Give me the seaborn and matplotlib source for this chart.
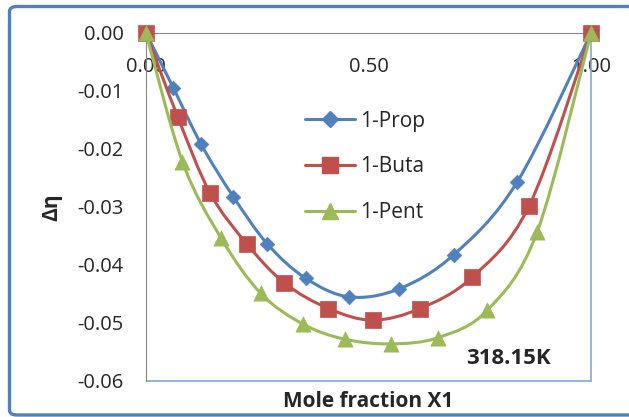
import numpy as np
import pandas as pd
import matplotlib
matplotlib.use("Agg")
import matplotlib.pyplot as plt
import seaborn as sns
from matplotlib.path import Path
from matplotlib.patches import PathPatch, FancyBboxPatch, Rectangle
from matplotlib.lines import Line2D

# ===================== data =====================
x_prop = [0.0, 0.061, 0.124, 0.196, 0.273, 0.359, 0.457, 0.569, 0.692, 0.834, 1.0]
y_prop = [0.0, -0.0094, -0.0192, -0.0282, -0.0364, -0.0423, -0.0455, -0.0441, -0.0382, -0.0257, 0.0]

x_buta = [0.0, 0.071, 0.144, 0.226, 0.311, 0.410, 0.509, 0.616, 0.733, 0.861, 1.0]
y_buta = [0.0, -0.0144, -0.0276, -0.0363, -0.0431, -0.0475, -0.0495, -0.0475, -0.0421, -0.0298, 0.0]

x_pent = [0.0, 0.082, 0.169, 0.258, 0.353, 0.447, 0.551, 0.657, 0.767, 0.879, 1.0]
y_pent = [0.0, -0.0222, -0.0354, -0.0449, -0.0502, -0.0528, -0.0536, -0.0525, -0.0478, -0.0343, 0.0]

series_names = ["1-Prop", "1-Buta", "1-Pent"]
y_ticks = [0.0, -0.01, -0.02, -0.03, -0.04, -0.05, -0.06]
y_ticklabels = ["0.00", "-0.01", "-0.02", "-0.03", "-0.04", "-0.05", "-0.06"]
x_ticks = [0.0, 0.5, 1.0]
x_ticklabels = ["0.00", "0.50", "1.00"]

colors = {"1-Prop": "#4F81BD", "1-Buta": "#C0504D", "1-Pent": "#9BBB59"}
markers = {"1-Prop": "D", "1-Buta": "s", "1-Pent": "^"}
sizes = {"1-Prop": 55, "1-Buta": 120, "1-Pent": 120}

df = pd.concat([
    pd.DataFrame({"x": x_prop, "y": y_prop, "series": "1-Prop"}),
    pd.DataFrame({"x": x_buta, "y": y_buta, "series": "1-Buta"}),
    pd.DataFrame({"x": x_pent, "y": y_pent, "series": "1-Pent"}),
], ignore_index=True)

sns.set_style("white")
plt.rcParams['font.family'] = ['Open Sans', 'DejaVu Sans']

fig = plt.figure(figsize=(6.29, 4.17), dpi=100)
ax = fig.add_axes([146 / 629, 1 - 381 / 417, 445 / 629, 348 / 417])


def smooth_path(xs, ys):
    # Excel style smoothed line: cubic bezier through the points
    p = np.column_stack([xs, ys])
    n = len(p)
    verts = [p[0]]
    codes = [Path.MOVETO]
    for i in range(n - 1):
        p0 = p[i - 1] if i > 0 else p[i]
        p3 = p[i + 2] if i + 2 < n else p[i + 1]
        c1 = p[i] + (p[i + 1] - p0) / 6
        c2 = p[i + 1] - (p3 - p[i]) / 6
        verts += [c1, c2, p[i + 1]]
        codes += [Path.CURVE4] * 3
    return Path(verts, codes)


for k, name in enumerate(series_names):
    sub = df[df["series"] == name]
    patch = PathPatch(smooth_path(sub["x"].values, sub["y"].values), fill=False,
                      edgecolor=colors[name], lw=2.2, zorder=2 + k, clip_on=False)
    ax.add_patch(patch)
    sns.scatterplot(data=sub, x="x", y="y", color=colors[name], marker=markers[name],
                    s=sizes[name], edgecolor=colors[name], linewidth=0.5,
                    legend=False, ax=ax, zorder=2.5 + k, clip_on=False)

ax.set_xlim(0, 1)
ax.set_ylim(-0.06, 0)

# axes styling
axis_gray = "#868686"
border_blue = "#7FA9DC"
ax.spines['bottom'].set_position(('data', 0))
ax.spines['bottom'].set_color(axis_gray)
ax.spines['left'].set_color(axis_gray)
ax.spines['top'].set_visible(False)
ax.spines['right'].set_color(border_blue)
ax.spines['right'].set_linewidth(1.2)
ax.spines['bottom'].set_zorder(1.5)
ax.add_patch(Rectangle((0, 0), 1, 0.0, transform=ax.transAxes, fill=False,
                       edgecolor=border_blue, lw=1.2, clip_on=False))

ax.set_xticks(x_ticks)
ax.set_xticklabels(x_ticklabels)
ax.set_yticks(y_ticks)
ax.set_yticklabels(y_ticklabels)
ax.tick_params(axis='x', direction='out', length=4.5, width=1, color=axis_gray,
               pad=13, labelsize=14.5)
ax.tick_params(axis='y', direction='out', length=5, width=1, color=axis_gray,
               pad=11, labelsize=14.5)

ax.set_ylabel("Δη", fontsize=15, fontweight='bold')
ax.yaxis.set_label_coords(-0.189, 0.5)
ax.set_xlabel("")
ax.text(0.5, -0.0575, "Mole fraction X1", transform=ax.transAxes, ha='center', va='center',
        fontsize=15, fontweight='bold')

ax.text((508 - 146) / 445, 1 - (359 - 33) / 348, "318.15K", transform=ax.transAxes,
        ha='center', va='center', fontsize=16, fontweight='bold')

handles = [Line2D([0], [0], color=colors[n], lw=2.2, marker=markers[n],
                  markersize={"1-Prop": 8, "1-Buta": 11, "1-Pent": 11}[n])
           for n in series_names]
ax.legend(handles, series_names, loc='center left',
          bbox_to_anchor=((305 - 146) / 445, 1 - (167 - 33) / 348),
          frameon=False, fontsize=15, handlelength=2.4, handletextpad=0.25,
          labelspacing=1.2, borderpad=0, borderaxespad=0)

# outer chart border
fig.patches.append(FancyBboxPatch((9.5 / 629, 2 / 417), 1.05, 1 - 6.5 / 417 - 2 / 417,
                                  boxstyle="round,pad=0,rounding_size=0.012",
                                  transform=fig.transFigure, fill=False,
                                  edgecolor="#4F81BD", lw=2.4))

fig.savefig("out.png", dpi=100)
